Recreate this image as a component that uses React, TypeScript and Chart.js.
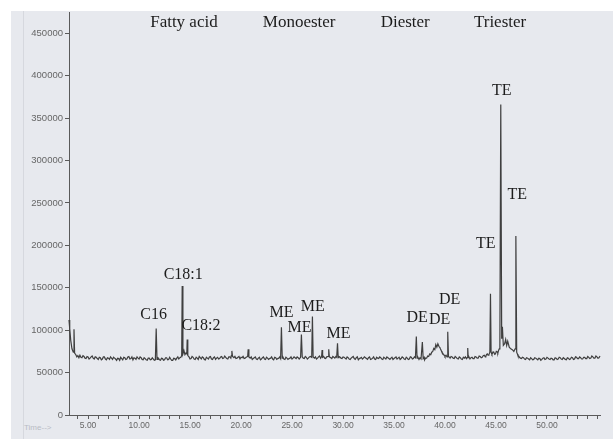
import { useEffect, useRef } from 'react';
import { Chart, registerables } from 'chart.js';

Chart.register(...registerables);

// ---- data (retention time in min, abundance) ----
const traceStart: [number, number][] = [
  [3.13, 112000], [3.2, 102000], [3.3, 88000], [3.42, 78000], [3.55, 74000], [3.62, 101000], [3.68, 73000],
  [3.8, 71000], [3.9, 68500], [4.0, 70000], [4.1, 67500], [4.2, 70500], [4.3, 68000], [4.4, 67500], [4.5, 70000],
  [4.6, 69000], [4.7, 67000], [4.8, 66500], [4.9, 69000], [5.0, 68500], [5.1, 66000], [5.2, 67000], [5.3, 68500],
  [5.4, 69500], [5.5, 67000], [5.6, 66000], [5.7, 68500], [5.8, 68000], [5.9, 66500], [6.0, 65500], [6.1, 68000],
  [6.2, 67500], [6.3, 65000], [6.4, 66000], [6.5, 68500], [6.6, 68500], [6.7, 66000], [6.8, 65000], [6.9, 67500],
  [7.0, 67000], [7.1, 65500], [7.2, 68500], [7.3, 67000], [7.4, 65500], [7.5, 68000], [7.6, 67000], [7.7, 66000],
  [7.8, 64500], [7.9, 67000], [8.0, 66500], [8.1, 64500], [8.2, 68000], [8.3, 66500], [8.4, 65000], [8.5, 68000],
  [8.6, 67500], [8.7, 65500], [8.8, 66000], [8.9, 68500], [9.0, 69000], [9.1, 66000], [9.2, 66500], [9.3, 68500],
  [9.4, 65000], [9.5, 67500], [9.6, 67000], [9.7, 65500], [9.8, 68500], [9.9, 67000], [10.0, 66000],
];

const traceFattyAcid: [number, number][] = [
  [10.1, 68500], [10.2, 67500], [10.3, 65500], [10.4, 65000], [10.5, 67500], [10.6, 66500], [10.7, 65000],
  [10.8, 64500], [10.9, 67000], [11.0, 67000], [11.1, 65000], [11.2, 65500], [11.3, 67500], [11.4, 66000],
  [11.5, 64500], [11.6, 65000], [11.68, 102000], [11.76, 65500], [11.85, 67500], [11.9, 67000], [12.0, 65000],
  [12.1, 64500], [12.2, 67000], [12.3, 66500], [12.4, 64500], [12.5, 65000], [12.6, 67500], [12.7, 67500],
  [12.8, 65000], [12.9, 65500], [13.0, 68000], [13.1, 66000], [13.2, 64500], [13.3, 64500], [13.4, 67000],
  [13.5, 66500], [13.6, 65000], [13.7, 67000], [13.8, 68500], [13.9, 66000], [14.0, 67500], [14.1, 68000],
  [14.18, 70000], [14.23, 152000], [14.3, 72000], [14.4, 76000], [14.5, 71000], [14.6, 73000],
  [14.68, 72000], [14.72, 89000], [14.78, 70000], [14.9, 68500], [15.0, 66000], [15.1, 66500], [15.2, 69000],
  [15.3, 68000], [15.4, 66000], [15.5, 65500], [15.6, 68000], [15.7, 67000], [15.8, 65500], [15.9, 69000],
  [16.0, 67500], [16.1, 66000], [16.2, 68500], [16.3, 67500], [16.4, 65500], [16.5, 65000], [16.6, 68000],
  [16.7, 67000], [16.8, 66000], [16.9, 68500], [17.0, 69000], [17.1, 66000], [17.2, 65500], [17.3, 67500],
  [17.4, 68500], [17.5, 65500], [17.6, 67000], [17.7, 68000], [17.8, 66000], [17.9, 66500], [18.0, 68500],
  [18.1, 69000], [18.2, 66500], [18.3, 67000], [18.4, 69500], [18.5, 68000], [18.6, 66500], [18.7, 66000],
  [18.8, 68500], [18.9, 68500], [19.0, 67000], [19.05, 70000], [19.1, 75500], [19.17, 69000], [19.3, 67500],
  [19.4, 69000], [19.5, 66500], [19.6, 67000], [19.7, 68000], [19.8, 69000], [19.9, 66000], [20.0, 68000],
];

const traceMonoester: [number, number][] = [
  [20.1, 67500], [20.2, 69000], [20.3, 66500], [20.4, 67000], [20.5, 68000], [20.65, 69000], [20.7, 77500],
  [20.77, 68500], [20.9, 67000], [21.0, 68500], [21.1, 65500], [21.2, 66500], [21.3, 67500], [21.4, 68500],
  [21.5, 66000], [21.6, 65500], [21.7, 67000], [21.8, 68000], [21.9, 65000], [22.0, 66000], [22.1, 67500],
  [22.2, 68500], [22.3, 66000], [22.4, 65500], [22.5, 68000], [22.6, 67000], [22.7, 65500], [22.8, 66500],
  [22.9, 67000], [23.0, 68500], [23.1, 66000], [23.2, 65000], [23.3, 68000], [23.4, 67500], [23.5, 65500],
  [23.6, 66500], [23.7, 67000], [23.8, 68500], [23.88, 66500], [23.96, 103500], [24.04, 67000], [24.1, 68500],
  [24.2, 66000], [24.3, 65500], [24.4, 68000], [24.5, 67000], [24.6, 65500], [24.7, 66500], [24.8, 67000],
  [24.9, 68500], [25.0, 66000], [25.1, 67000], [25.2, 68500], [25.3, 67500], [25.4, 66500], [25.5, 68500],
  [25.6, 67500], [25.7, 66000], [25.84, 68000], [25.92, 95000], [26.0, 68500], [26.1, 67000], [26.2, 66500],
  [26.3, 69000], [26.4, 68000], [26.5, 66000], [26.6, 67000], [26.7, 68500], [26.8, 69000], [26.93, 68000],
  [27.0, 116000], [27.07, 68500], [27.2, 67000], [27.3, 68500], [27.4, 66000], [27.5, 67000], [27.6, 68500],
  [27.7, 69500], [27.8, 67000], [27.9, 69000], [27.95, 76500], [28.0, 68000], [28.1, 69000], [28.2, 67000],
  [28.3, 66500], [28.4, 68500], [28.55, 69000], [28.6, 77500], [28.66, 68500], [28.8, 67500], [28.9, 66500],
  [29.0, 69000], [29.1, 68000], [29.2, 67000], [29.3, 69000], [29.38, 68000], [29.46, 84500], [29.53, 67500],
  [29.6, 69000], [29.7, 68500], [29.8, 67000], [29.9, 66500], [30.0, 68500],
];

const traceDiester: [number, number][] = [
  [30.1, 68000], [30.2, 67000], [30.3, 66000], [30.4, 68500], [30.5, 67500], [30.6, 66000], [30.7, 65500],
  [30.8, 67000], [30.9, 68000], [31.0, 69000], [31.1, 66500], [31.2, 65500], [31.3, 67500], [31.4, 68500],
  [31.5, 65000], [31.6, 66500], [31.7, 67000], [31.8, 68000], [31.9, 66000], [32.0, 67000], [32.1, 68500],
  [32.2, 67500], [32.3, 66500], [32.4, 65500], [32.5, 67500], [32.6, 68500], [32.7, 65500], [32.8, 66000],
  [32.9, 67000], [33.0, 68500], [33.1, 66000], [33.2, 65500], [33.3, 68000], [33.4, 67000], [33.5, 66500],
  [33.6, 68500], [33.7, 67500], [33.8, 66000], [33.9, 65500], [34.0, 68000], [34.1, 67000], [34.2, 66000],
  [34.3, 68500], [34.4, 67500], [34.5, 66500], [34.6, 65500], [34.7, 67000], [34.8, 68000], [34.9, 65500],
  [35.0, 66500], [35.1, 67500], [35.2, 68500], [35.3, 66000], [35.4, 67000], [35.5, 68000], [35.6, 65500],
  [35.7, 66500], [35.8, 68500], [35.9, 67500], [36.0, 66000], [36.1, 65500], [36.2, 68000], [36.3, 67000],
  [36.4, 65500], [36.5, 66000], [36.6, 68500], [36.7, 68000], [36.8, 66000], [36.9, 66500], [37.0, 68500],
  [37.1, 67500], [37.19, 92500], [37.26, 67000], [37.35, 68000], [37.45, 65500], [37.55, 67500], [37.65, 66000],
  [37.78, 86000], [37.86, 66500], [37.95, 68000], [38.0, 65000], [38.1, 67000], [38.2, 67000], [38.3, 69500],
  [38.4, 69000], [38.5, 72000], [38.6, 71000], [38.7, 74000], [38.8, 75000], [38.9, 78500], [39.0, 77000],
  [39.1, 83000], [39.2, 80000], [39.3, 84000], [39.4, 81000], [39.5, 79500], [39.55, 78000], [39.65, 75500],
  [39.7, 74000], [39.8, 72500], [39.85, 71000], [39.95, 70500], [40.0, 69000], [40.1, 70500], [40.2, 68500],
  [40.27, 98000], [40.34, 69000], [40.45, 68000], [40.5, 67000], [40.6, 69000],
];

const traceTriester: [number, number][] = [
  [40.7, 68500], [40.8, 67000], [40.9, 66500], [41.0, 69000], [41.1, 68000], [41.2, 66500], [41.3, 66000],
  [41.4, 68500], [41.5, 67500], [41.6, 66000], [41.7, 65500], [41.8, 68000], [41.9, 67000], [42.0, 68500],
  [42.1, 66500], [42.2, 68000], [42.23, 79000], [42.28, 67500], [42.35, 68500], [42.45, 66000], [42.55, 67500],
  [42.65, 68000], [42.75, 66500], [42.85, 66500], [42.95, 69000], [43.05, 68500], [43.15, 67000], [43.25, 67000],
  [43.35, 69500], [43.45, 69000], [43.55, 67500], [43.65, 68000], [43.75, 70000], [43.85, 70500], [43.95, 68500],
  [44.0, 69000], [44.08, 71500], [44.15, 72000], [44.22, 70500], [44.3, 71000], [44.4, 74000], [44.46, 143000],
  [44.52, 74000], [44.6, 71500], [44.65, 72500], [44.72, 74500], [44.8, 73500], [44.88, 71500], [44.95, 72000],
  [45.03, 75000], [45.1, 74500], [45.18, 73000], [45.25, 76000], [45.32, 78000], [45.38, 80000], [45.47, 366000],
  [45.56, 90000], [45.63, 104000], [45.72, 82000], [45.85, 84000], [45.95, 89000], [46.05, 82000], [46.15, 87000],
  [46.3, 80000], [46.45, 78000], [46.6, 77000], [46.75, 75000], [46.88, 78000], [46.95, 211000], [47.03, 74000],
  [47.1, 72000], [47.15, 70000], [47.22, 69500], [47.3, 68000], [47.4, 67000], [47.5, 66500], [47.6, 68000],
  [47.7, 67500], [47.8, 66000], [47.9, 65500], [48.0, 67500],
];

const traceEnd: [number, number][] = [
  [48.1, 67000], [48.2, 66000], [48.3, 65000], [48.4, 67500], [48.5, 66500], [48.6, 65000], [48.7, 65500],
  [48.8, 67500], [48.9, 67000], [49.0, 66000], [49.1, 65000], [49.2, 67000], [49.3, 66500], [49.4, 64500],
  [49.5, 65500], [49.6, 67000], [49.7, 67500], [49.8, 65500], [49.9, 66000], [50.0, 68000], [50.1, 67000],
  [50.2, 66000], [50.3, 65500], [50.4, 67000], [50.5, 66500], [50.6, 65000], [50.7, 65000], [50.8, 67500],
  [50.9, 67000], [51.0, 65500], [51.1, 66000], [51.2, 68000], [51.3, 67500], [51.4, 66000], [51.5, 65500],
  [51.6, 67500], [51.7, 66500], [51.8, 65500], [51.9, 65000], [52.0, 67500], [52.1, 67000], [52.2, 65500],
  [52.3, 66000], [52.4, 68000], [52.5, 67500], [52.6, 65500], [52.7, 66000], [52.8, 68500], [52.9, 68000],
  [53.0, 66500], [53.1, 66500], [53.2, 68500], [53.3, 67500], [53.4, 66000], [53.5, 66000], [53.6, 68000],
  [53.7, 68000], [53.8, 66500], [53.9, 66500], [54.0, 69000], [54.1, 68000], [54.2, 66500], [54.3, 67000],
  [54.4, 69500], [54.5, 68500], [54.6, 67000], [54.7, 67000], [54.8, 69500], [54.9, 68500], [55.0, 67000],
  [55.1, 67500], [55.2, 69500], [55.3, 68500], [55.4, 67500], [55.5, 67000], [55.6, 69500], [55.7, 69000],
  [55.8, 67500], [55.9, 68000],
];

// peak labels
const peakLabelText = ['C16', 'C18:1', 'C18:2', 'ME', 'ME', 'ME', 'ME', 'DE', 'DE', 'DE', 'TE', 'TE', 'TE'];
const peakLabelTime = [11.43, 14.33, 16.07, 23.96, 25.73, 27.03, 29.56, 37.27, 39.48, 40.46, 44.0, 45.57, 47.09];
const peakLabelValue = [118600, 165200, 104600, 120400, 102800, 128000, 95200, 114500, 112800, 136200, 202300, 382100, 259100];

// group labels
const groupLabelText = ['Fatty acid', 'Monoester', 'Diester', 'Triester'];
const groupLabelTime = [14.4, 25.7, 36.1, 45.4];
const groupLabelValue = 463000;

// axis ticks
const xTickValues = [4, 5, 6, 7, 8, 9, 10, 11, 12, 13, 14, 15, 16, 17, 18, 19, 20, 21, 22, 23, 24, 25, 26, 27, 28, 29,
  30, 31, 32, 33, 34, 35, 36, 37, 38, 39, 40, 41, 42, 43, 44, 45, 46, 47, 48, 49, 50, 51, 52, 53, 54, 55];
const xLabelledTicks = [5, 10, 15, 20, 25, 30, 35, 40, 45, 50];
const yTickValues = [0, 50000, 100000, 150000, 200000, 250000, 300000, 350000, 400000, 450000];

const X_MIN = 3.13;
const X_MAX = 55.2;
const Y_MAX = 475000;

const SANS = '"Liberation Sans", Arial, sans-serif';
const SERIF = '"Liberation Serif", "Times New Roman", serif';

const labelPlugin = {
  id: 'chromLabels',
  afterDatasetsDraw(chart: any) {
    const { ctx } = chart;
    const x = chart.scales.x;
    const y = chart.scales.y;
    ctx.save();
    ctx.fillStyle = '#1c1c1c';
    ctx.textAlign = 'center';
    ctx.textBaseline = 'middle';
    ctx.font = `16px ${SERIF}`;
    peakLabelText.forEach((t, i) => {
      ctx.fillText(t, x.getPixelForValue(peakLabelTime[i]), y.getPixelForValue(peakLabelValue[i]));
    });
    ctx.font = `17px ${SERIF}`;
    groupLabelText.forEach((t, i) => {
      ctx.fillText(t, x.getPixelForValue(groupLabelTime[i]), y.getPixelForValue(groupLabelValue));
    });
    ctx.restore();
  },
};

export default function App() {
  const ref = useRef<HTMLCanvasElement>(null);

  useEffect(() => {
    const points = [...traceStart, ...traceFattyAcid, ...traceMonoester, ...traceDiester, ...traceTriester, ...traceEnd]
      .map(([t, v]) => ({ x: t, y: v }));
    const chart = new Chart(ref.current as HTMLCanvasElement, {
      type: 'line',
      data: {
        datasets: [
          {
            data: points,
            borderColor: '#3f3f3f',
            borderWidth: 1.2,
            pointRadius: 0,
            tension: 0,
            fill: false,
            clip: false as any,
          },
        ],
      },
      options: {
        animation: false,
        responsive: false,
        maintainAspectRatio: false,
        layout: { padding: { top: 12, right: 13, left: 0, bottom: 0 } },
        plugins: { legend: { display: false }, tooltip: { enabled: false } },
        scales: {
          x: {
            type: 'linear',
            min: X_MIN,
            max: X_MAX,
            afterFit: (s: any) => { s.height = 24; },
            afterBuildTicks: (s: any) => { s.ticks = xTickValues.map((v) => ({ value: v })); },
            grid: { drawOnChartArea: false, tickLength: 4, color: '#5a5a5a', tickColor: '#5a5a5a' },
            border: { color: '#5a5a5a', width: 1 },
            ticks: {
              autoSkip: false,
              maxRotation: 0,
              padding: 2,
              color: '#666666',
              font: { size: 8.5, family: SANS },
              callback: (v: any) => (xLabelledTicks.includes(Number(v)) ? Number(v).toFixed(2) : ''),
            },
          },
          y: {
            type: 'linear',
            min: 0,
            max: Y_MAX,
            afterFit: (s: any) => { s.width = 69; },
            afterBuildTicks: (s: any) => { s.ticks = yTickValues.map((v) => ({ value: v })); },
            grid: { drawOnChartArea: false, tickLength: 4, color: '#5a5a5a', tickColor: '#5a5a5a' },
            border: { color: '#5a5a5a', width: 1 },
            ticks: {
              autoSkip: false,
              padding: 2,
              color: '#666666',
              font: { size: 9.5, family: SANS },
              callback: (v: any) => String(v),
            },
          },
        },
      } as any,
      plugins: [labelPlugin],
    });
    return () => chart.destroy();
  }, []);

  return (
    <div style={{ position: 'fixed', left: 0, top: 0, width: 613, height: 439, background: '#ffffff', overflow: 'hidden' }}>
      <div style={{ position: 'absolute', left: 11, top: 11, right: 0, bottom: 0, background: '#e7e9ee' }} />
      <div style={{ position: 'absolute', left: 23, top: 11, width: 1, bottom: 0, background: '#d6d8de' }} />
      <span
        style={{
          position: 'absolute', left: 24, top: 423, fontFamily: SANS, fontSize: 8, color: '#b9bcc5', whiteSpace: 'nowrap',
        }}
      >
        Time--&gt;
      </span>
      <canvas ref={ref} width={613} height={439} style={{ position: 'absolute', left: 0, top: 0 }} />
    </div>
  );
}
